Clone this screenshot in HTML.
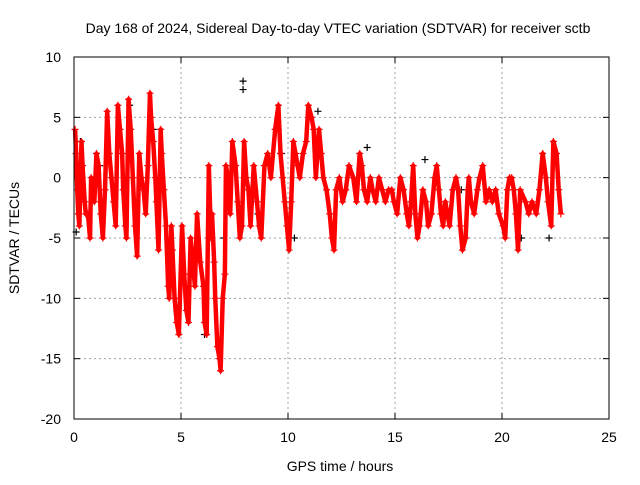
<!DOCTYPE html>
<html><head><meta charset="utf-8"><style>
body{margin:0;background:#fff}
svg text{font-family:"Liberation Sans",sans-serif;font-size:14px;fill:#000}
</style></head><body>
<svg id="chart" width="640" height="480" viewBox="0 0 640 480">
<rect width="640" height="480" fill="#fff"/>
<text x="338" y="33" text-anchor="middle">Day 168 of 2024, Sidereal Day-to-day VTEC variation (SDTVAR) for receiver sctb</text>
<g id="grid"></g><g id="ticks"></g>
<g id="marks"></g>
<rect x="74" y="57" width="535" height="362" fill="none" stroke="#000" stroke-width="1"/>
<text x="340" y="471" text-anchor="middle">GPS time / hours</text>
<text transform="translate(19,238) rotate(-90)" text-anchor="middle">SDTVAR / TECUs</text>
</svg>
<script>
const xTicks=[0,5,10,15,20,25];
const yTicks=[-20,-15,-10,-5,0,5,10];
const redT=[0.05,0.1,0.15,0.2,0.25,0.35,0.4,0.5,0.55,0.65,0.75,0.8,0.9,0.95,1.05,1.15,1.25,1.35,1.45,1.55,1.65,1.75,1.85,1.95,2.05,2.15,2.25,2.3,2.4,2.45,2.55,2.65,2.75,2.85,2.95,3.05,3.15,3.25,3.35,3.45,3.55,3.6,3.7,3.8,3.85,3.95,4.05,4.1,4.2,4.3,4.4,4.45,4.55,4.6,4.7,4.8,4.9,5.05,5.15,5.25,5.35,5.45,5.55,5.65,5.75,5.9,6.05,6.1,6.2,6.3,6.4,6.45,6.55,6.6,6.7,6.8,6.85,6.95,7.05,7.1,7.2,7.3,7.4,7.55,7.65,7.75,7.85,7.95,8.05,8.15,8.25,8.4,8.55,8.65,8.75,8.9,9.05,9.2,9.4,9.55,9.65,9.75,9.85,9.95,10.05,10.15,10.25,10.35,10.45,10.55,10.7,10.85,10.95,11.1,11.2,11.3,11.45,11.55,11.65,11.8,11.95,12.05,12.15,12.25,12.4,12.55,12.7,12.85,13.05,13.2,13.35,13.45,13.55,13.7,13.85,13.95,14.1,14.25,14.4,14.55,14.7,14.85,14.95,15.1,15.25,15.4,15.55,15.65,15.75,15.85,15.95,16.05,16.15,16.3,16.45,16.55,16.7,16.85,16.95,17.05,17.15,17.25,17.35,17.45,17.55,17.7,17.85,17.95,18.05,18.15,18.3,18.4,18.45,18.55,18.7,18.85,18.95,19.1,19.25,19.4,19.55,19.7,19.85,20.05,20.15,20.25,20.35,20.45,20.55,20.65,20.75,20.85,21.1,21.25,21.4,21.6,21.75,21.9,22.05,22.15,22.3,22.4,22.55,22.65,22.75,22.85];
const redV=[4,2,-1,-3,-4,3,1,-2,-3,-3,-5,0,-1,-2,2,1,-3,-5,-1,5.5,2,0,-2,-4,6,4,2,-1,-4,-5,6.5,4,0,-4,-6.5,2,0,-1,-3,1,7,5,3,0,-2,-6,4,2,-1,-4,-9,-10,-4,-6,-10,-12,-13,-4,-8,-11,-12,-5,-7,-9,-3,-7,-9,-12,-13,1,-5,-3,-7,-10,-14,-15,-16,-10,-8,1,0,-3,3,1,-2,-5,-4,3,0,-1,-4,1,-2,-4,-5,1,2,0,4,6,2,0,-2,-4,-6,-2,3,2,1,0,2,3,6,5,4,0,4,2,0,-1,-3,-5,-6,-1,0,-2,-1,1,0,-2,2,1,-1,-2,0,-1,-2,0,-1,-2,-1,-1,-2,-3,0,-1,-3,-4,-2,1,-3,-5,-4,-1,-2,-4,-3,0,1,-1,-3,-4,-2,-3,-4,-1,0,-1,-4,-6,-5,-1,0,-2,-3,-1,0,1,-2,-1,-2,-1,-3,-4,-5,-1,0,0,-1,-3,-6,-1,-2,-3,-2,-3,-1,2,0,-2,-4,3,2,-1,-3];
const blackT=[0.1,0.3,1.2,2.6,3.7,4.6,6.1,7.0,7.9,7.9,8.6,9.7,10.3,11.4,13.7,16.4,18.1,20.9,22.2];
const blackV=[-4.5,3,1,6,4,-9,-13,-5,8,7.3,-3,2,-5,5.5,2.5,1.5,-1,-5,-5];
const X=v=>74+v*535/25, Y=v=>419-(v+20)*362/30;
const ns="http://www.w3.org/2000/svg";
const grid=document.getElementById('grid'),ticks=document.getElementById('ticks'),marks=document.getElementById('marks');
function mk(tag,attrs,parent){const e=document.createElementNS(ns,tag);for(const k in attrs)e.setAttribute(k,attrs[k]);parent.appendChild(e);return e;}
xTicks.forEach(t=>{
  if(t>0&&t<25){const g=mk('line',{x1:X(t),x2:X(t),y1:57,y2:419,stroke:'#a0a0a0','stroke-dasharray':'2,3'},grid);
  
  }
  const l=mk('text',{x:X(t),y:442,'text-anchor':'middle'},ticks);l.textContent=t;
  
  
  mk('line',{x1:X(t),x2:X(t),y1:419,y2:413,stroke:'#000'},ticks);
  mk('line',{x1:X(t),x2:X(t),y1:57,y2:63,stroke:'#000'},ticks);
});
yTicks.forEach(t=>{
  if(t>-20&&t<10){const g=mk('line',{x1:74,x2:609,y1:Y(t),y2:Y(t),stroke:'#a0a0a0','stroke-dasharray':'2,3'},grid);
  
  }
  const l=mk('text',{x:61,y:Y(t)+5,'text-anchor':'end'},ticks);l.textContent=t;
  
  
  mk('line',{x1:74,x2:80,y1:Y(t),y2:Y(t),stroke:'#000'},ticks);
  mk('line',{x1:603,x2:609,y1:Y(t),y2:Y(t),stroke:'#000'},ticks);
});
function plus(t,v,c,name){const p=mk('path',{d:`M${X(t)-3.5},${Y(v)}h7M${X(t)},${Y(v)-3.5}v7`,stroke:c,'stroke-width':1.2},marks);
  
  }
blackT.forEach((t,i)=>plus(t,blackV[i],'#000','black-point'));
const pl=mk('polyline',{points:redT.map((t,i)=>X(t)+','+Y(redV[i])).join(' '),fill:'none',stroke:'#f00','stroke-width':4.5,'stroke-linejoin':'round'},marks);


redT.forEach((t,i)=>plus(t,redV[i],'#f00','sdtvar-point'));
</script>
</body></html>
